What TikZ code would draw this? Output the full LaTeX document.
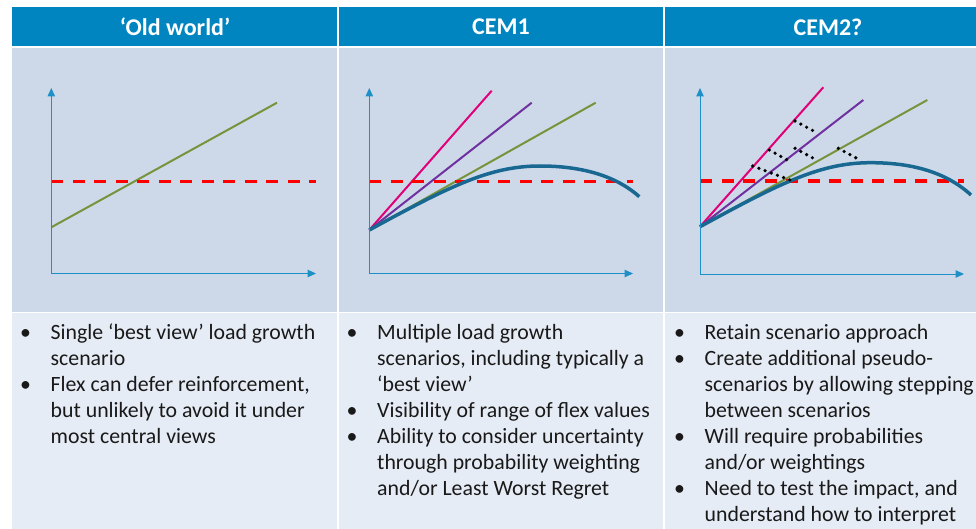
\documentclass[tikz,border=0pt]{standalone}
\usepackage{fontspec}
\setmainfont{Carlito}
\usetikzlibrary{arrows.meta}
\definecolor{headblue}{RGB}{0,133,192}
\definecolor{chartbg}{RGB}{205,217,232}
\definecolor{textbg}{RGB}{230,236,245}
\definecolor{axisblue}{RGB}{30,144,200}
\definecolor{limitred}{RGB}{255,0,0}
\definecolor{scengreen}{RGB}{119,147,60}
\definecolor{scenpink}{RGB}{226,0,122}
\definecolor{scenpurple}{RGB}{112,48,160}
\definecolor{demandblue}{RGB}{24,104,146}
\definecolor{textdark}{RGB}{25,25,25}
\newcommand{\bulletpt}{\makebox[30.5pt][l]{\strut\textbullet}}
\newcommand{\hangpt}{\hspace*{30.5pt}}
\tikzset{
	headtext/.style={text=white, font=\fontsize{24}{28}\selectfont\bfseries},
	bodytext/.style={anchor=north west, inner sep=0pt, align=left, text=textdark, font=\fontsize{21.8}{26}\selectfont},
	chartaxis/.style={axisblue, line width=1pt, {Triangle[length=8.5pt,width=7.5pt]}-{Triangle[length=8.5pt,width=7.5pt]}},
	limitline/.style={limitred, line width=3.2pt, dash pattern=on 12pt off 9.5pt},
	growth/.style={line width=2pt},
	demand/.style={demandblue, line width=3.5pt},
	hopdots/.style={black, line width=3.6pt, line cap=round, dash pattern=on 0pt off 6.6pt}
}
\begin{document}
\begin{tikzpicture}[x=1pt,y=-1pt]
	\clip (0,0) rectangle (976,529);
	\fill[white] (0,0) rectangle (976,529);
	
	\fill[headblue] (12,7.5) rectangle (337,46);
	\fill[headblue] (338.5,7.5) rectangle (663,46);
	\fill[headblue] (664.5,7.5) rectangle (976,46);
	\fill[chartbg] (12,48.5) rectangle (337,311.5);
	\fill[chartbg] (338.5,48.5) rectangle (663,311.5);
	\fill[chartbg] (664.5,48.5) rectangle (976,311.5);
	\fill[textbg] (12,313) rectangle (337,529);
	\fill[textbg] (338.5,313) rectangle (663,529);
	\fill[textbg] (664.5,313) rectangle (976,529);
	
	\node[headtext] (oldhead) at (175,27) {‘Old world’};
	\node[headtext] (cemonehead) at (501,27) {CEM1};
	\node[headtext] (cemtwohead) at (828,27) {CEM2?};
	
	\draw[growth, scengreen] (51.3,227.3) -- (277,102.7);
	\draw[limitline] (51.3,181.5) -- (316,181.5);
	\draw[chartaxis] (51.3,88) -- (51.3,273.5) -- (316,273.5);
	
	\draw[growth, scenpink] (369.3,230) -- (491.7,90.7);
	\draw[growth, scenpurple] (369.3,230) -- (531.7,102.7);
	\draw[growth, scengreen] (369.3,230) -- (595.7,102.7);
	\draw[limitline] (369.3,181.5) -- (633,181.5);
	\draw[demand] (369.3,230) .. controls (450,186) and (490,166) .. (540,166) .. controls (580,166) and (615,175) .. (639.3,196.7);
	\draw[chartaxis] (369.3,88) -- (369.3,273.5) -- (633,273.5);
	
	\draw[growth, scenpink] (700,226.7) -- (823.3,87.3);
	\draw[growth, scenpurple] (700,226.7) -- (863.3,100);
	\draw[growth, scengreen] (700,226.7) -- (927.3,100);
	\draw[limitline] (700,181) -- (964,181);
	\draw[demand] (700,226.7) .. controls (780.7,182.7) and (820.7,162.7) .. (870.7,162.7) .. controls (910.7,162.7) and (945.7,171.7) .. (971,195);
	\draw[chartaxis] (700,88) -- (700,274) -- (964,274);
	\draw[hopdots] (795,121) -- (815,131.7);
	\draw[hopdots] (769.3,150) -- (787.3,160);
	\draw[hopdots] (795,148.3) -- (813.3,158.3);
	\draw[hopdots] (752.7,166) -- (790,180);
	\draw[hopdots] (838.3,148.3) -- (856.7,158.3);
	
	\node[bodytext] (oldlist) at (20,321) {\bulletpt Single ‘best view’ load growth\\ \hangpt scenario\\ \bulletpt Flex can defer reinforcement,\\ \hangpt but unlikely to avoid it under\\ \hangpt most central views};
	\node[bodytext] (cemonelist) at (346.5,321) {\bulletpt Multiple load growth\\ \hangpt scenarios, including typically a\\ \hangpt ‘best view’\\ \bulletpt Visibility of range of flex values\\ \bulletpt Ability to consider uncertainty\\ \hangpt through probability weighting\\ \hangpt and/or Least Worst Regret};
	\node[bodytext] (cemtwolist) at (674,321) {\bulletpt Retain scenario approach\\ \bulletpt Create additional pseudo-\\ \hangpt scenarios by allowing stepping\\ \hangpt between scenarios\\ \bulletpt Will require probabilities\\ \hangpt and/or weightings\\ \bulletpt Need to test the impact, and\\ \hangpt understand how to interpret};
\end{tikzpicture}
\end{document}
